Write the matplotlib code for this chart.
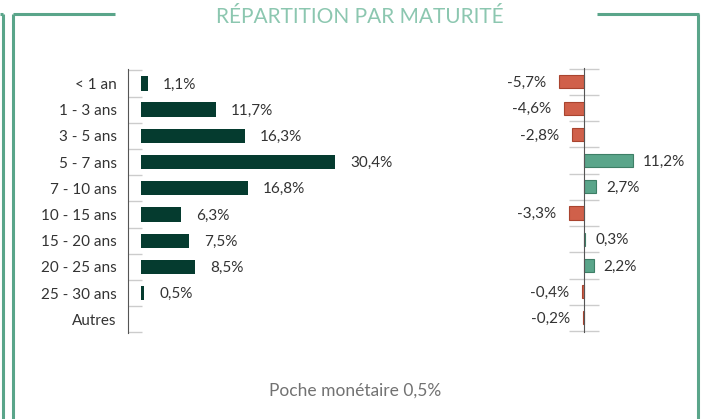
import matplotlib
matplotlib.use("Agg")
import matplotlib.pyplot as plt
from matplotlib.lines import Line2D

# ================= DATA =================
categories = ["< 1 an", "1 - 3 ans", "3 - 5 ans", "5 - 7 ans", "7 - 10 ans",
              "10 - 15 ans", "15 - 20 ans", "20 - 25 ans", "25 - 30 ans", "Autres"]
weights = [1.1, 11.7, 16.3, 30.4, 16.8, 6.3, 7.5, 8.5, 0.5, None]
diffs = [-5.7, -4.6, -2.8, 11.2, 2.7, -3.3, 0.3, 2.2, -0.4, -0.2]
title = "RÉPARTITION PAR MATURITÉ"
footer = "Poche monétaire 0,5%"

# ================= STYLE =================
W, H = 702, 419
DARK = "#053b2f"
POS, POS_EDGE = "#5aa58a", "#3e7f66"
NEG, NEG_EDGE = "#d0604a", "#a9442f"
FRAME = "#5aa58a"
TXT = "#333333"
SPINE = "#555555"
TICK = "#cccccc"
FONT = "Lato"
FS = 11

plt.rcParams['font.family'] = [FONT, 'DejaVu Sans']

fig = plt.figure(figsize=(W / 100, H / 100), dpi=100)


def fx(px):
    return px / W


def fy(py):
    return 1 - py / H


def fmt(v):
    return f"{v:.1f}".replace(".", ",") + "%"


n = len(categories)
ylim = (n - 0.5 + 0.02, -0.5 - 0.05)

# ---- left panel ----
top_px, bot_px = 69, 333
axL_left, axL_right = 128, 420
axL = fig.add_axes([fx(axL_left), fy(bot_px), fx(axL_right - axL_left), (bot_px - top_px) / H])
px_per = 6.38
x0 = -13 / px_per
axL.set_xlim(x0, x0 + (axL_right - axL_left) / px_per)
axL.set_ylim(*ylim)
ys = list(range(n))
for i, v in enumerate(weights):
    if v is None:
        continue
    axL.barh(i, v, height=0.55, color=DARK, left=0)
    axL.text(v + 15 / px_per, i + 0.04, fmt(v), va="center", ha="left", fontsize=FS, color=TXT)
axL.set_yticks(ys)
axL.set_yticklabels(categories, fontsize=FS, color=TXT)
axL.set_yticks([i + 0.5 for i in range(-1, n)], minor=True)
axL.tick_params(axis="y", which="major", length=0, pad=8)
axL.tick_params(axis="y", which="minor", length=10, direction="in", color=TICK, width=1)
axL.set_xticks([])
for s in ["top", "right", "bottom"]:
    axL.spines[s].set_visible(False)
axL.spines["left"].set_color(SPINE)

# ---- right panel ----
rtop, rbot = 67.5, 331.5
axR_left, axR_right = 520, 690
axR = fig.add_axes([fx(axR_left), fy(rbot), fx(axR_right - axR_left), (rbot - rtop) / H])
px_r = 4.4
zero_px = 584
axR.set_xlim(-(zero_px - axR_left) / px_r, (axR_right - zero_px) / px_r)
axR.set_ylim(*ylim)
for i, v in enumerate(diffs):
    if v >= 0:
        axR.barh(i, v, height=0.5, color=POS, edgecolor=POS_EDGE, linewidth=0.8)
        axR.text(v + 10 / px_r, i + 0.04, fmt(v), va="center", ha="left", fontsize=FS, color=TXT)
    else:
        axR.barh(i, v, height=0.5, color=NEG, edgecolor=NEG_EDGE, linewidth=0.8)
        axR.text(v - 13 / px_r, i + 0.04, fmt(v), va="center", ha="right", fontsize=FS, color=TXT)
axR.set_yticks([])
axR.set_yticks([i + 0.5 for i in range(-1, n)], minor=True)
axR.tick_params(axis="y", which="minor", length=22, direction="inout", color=TICK, width=1)
axR.set_xticks([])
for s in ["top", "right", "bottom"]:
    axR.spines[s].set_visible(False)
axR.spines["left"].set_position(("data", 0))
axR.spines["left"].set_color(SPINE)

# ---- decorative frame ----
lw = 2.2
frame_lines = [
    ([0, 3], [14, 14]), ([2.5, 2.5], [14, H]),
    ([12.5, 115], [14, 14]), ([12.5, 12.5], [14, H]),
    ([597, 699], [14, 14]), ([698, 698], [14, H]),
]
for xs, yy in frame_lines:
    fig.add_artist(Line2D([fx(x) for x in xs], [fy(y) for y in yy],
                          color=FRAME, lw=lw, transform=fig.transFigure,
                          solid_capstyle="butt"))

fig.text(fx(360), fy(17), title, ha="center", va="center", fontsize=15,
         color="#8cc7b0")
fig.text(fx(355), fy(391), footer, ha="center", va="center", fontsize=12.5,
         color="#727272")

fig.savefig("out.png", dpi=100)
